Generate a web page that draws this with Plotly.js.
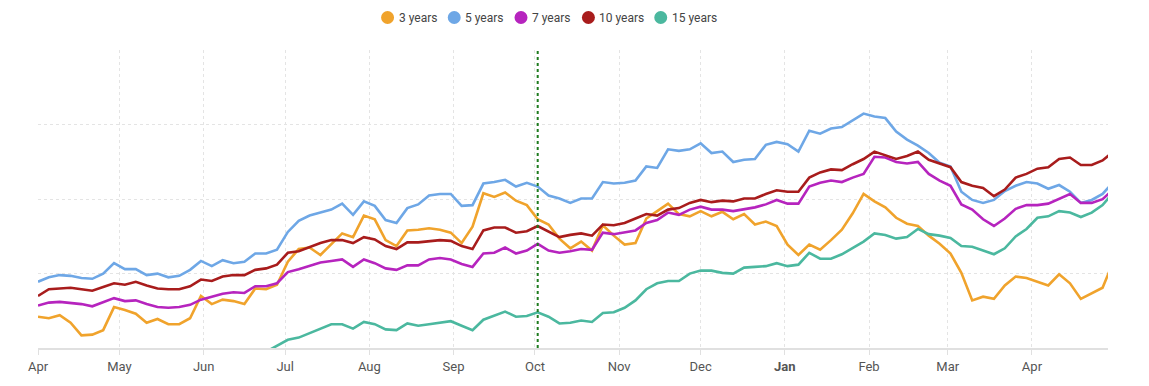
<!DOCTYPE html>
<html>
<head>
<meta charset="utf-8">
<script src="https://cdn.plot.ly/plotly-3.0.1.min.js"></script>
<style>
  html, body { margin: 0; padding: 0; background: #fff; }
  #chart { width: 1149px; height: 386px; }
</style>
</head>
<body>
<div id="chart"></div>
<script>
// Sampling: one observation every 4 days from 1 Apr 2023
const startDate = '2023-04-01';
const stepDays = 4;

const seriesNames = ['3 years', '5 years', '7 years', '10 years', '15 years'];
const seriesColors = ['#F0A32C', '#6EA7E6', '#B624BE', '#A81C1C', '#4BB89F'];

const years3 = [0.42,0.40,0.44,0.34,0.17,0.18,0.24,0.55,0.51,0.46,0.34,0.39,0.32,0.32,0.40,0.70,0.59,0.65,0.63,0.59,
  0.80,0.79,0.85,1.16,1.33,1.35,1.25,1.39,1.54,1.49,1.78,1.73,1.45,1.37,1.58,1.59,1.61,1.59,1.55,1.41,
  1.63,2.08,2.03,2.09,1.98,1.92,1.73,1.66,1.47,1.34,1.43,1.31,1.65,1.51,1.39,1.41,1.74,1.84,1.94,1.80,
  1.77,1.84,1.77,1.83,1.73,1.80,1.66,1.70,1.64,1.39,1.25,1.39,1.32,1.45,1.59,1.81,2.07,1.97,1.89,1.75,
  1.67,1.64,1.51,1.40,1.27,1.01,0.64,0.69,0.66,0.84,0.96,0.94,0.89,0.84,0.99,0.87,0.66,0.73,0.81,1.16];

const years5 = [0.89,0.95,0.98,0.97,0.94,0.93,1.00,1.14,1.06,1.06,0.98,1.00,0.95,0.97,1.05,1.17,1.10,1.18,1.14,1.16,
  1.27,1.27,1.32,1.56,1.71,1.78,1.82,1.86,1.94,1.79,1.97,1.91,1.72,1.68,1.88,1.93,2.05,2.07,2.07,1.91,
  1.92,2.21,2.23,2.26,2.17,2.22,2.17,2.05,2.01,1.95,2.01,2.01,2.23,2.21,2.22,2.25,2.44,2.42,2.67,2.65,
  2.67,2.75,2.62,2.64,2.50,2.53,2.54,2.73,2.77,2.74,2.64,2.92,2.88,2.95,2.97,3.06,3.15,3.11,3.09,2.91,
  2.80,2.72,2.62,2.49,2.44,2.10,1.99,1.95,1.99,2.11,2.18,2.23,2.21,2.14,2.19,2.10,1.95,1.99,2.07,2.23];

const years7 = [0.57,0.61,0.62,0.61,0.59,0.56,0.61,0.67,0.63,0.64,0.59,0.55,0.54,0.55,0.58,0.65,0.69,0.73,0.75,0.74,
  0.83,0.83,0.87,1.02,1.06,1.11,1.15,1.17,1.19,1.09,1.19,1.14,1.07,1.05,1.11,1.11,1.19,1.21,1.19,1.13,
  1.09,1.27,1.28,1.35,1.27,1.31,1.40,1.31,1.28,1.30,1.33,1.32,1.55,1.53,1.56,1.58,1.68,1.72,1.82,1.79,
  1.86,1.90,1.86,1.86,1.84,1.86,1.89,1.93,1.99,1.94,1.94,2.17,2.22,2.25,2.23,2.29,2.34,2.57,2.56,2.50,
  2.48,2.50,2.34,2.25,2.18,1.93,1.86,1.73,1.64,1.74,1.87,1.92,1.92,1.94,2.01,2.07,1.95,1.95,2.00,2.13];

const years10 = [0.70,0.79,0.80,0.81,0.79,0.77,0.82,0.87,0.85,0.89,0.84,0.80,0.79,0.79,0.83,0.92,0.90,0.96,0.98,0.98,
  1.05,1.07,1.12,1.28,1.30,1.36,1.41,1.45,1.45,1.41,1.49,1.46,1.37,1.33,1.42,1.42,1.44,1.45,1.44,1.37,
  1.33,1.58,1.62,1.62,1.55,1.57,1.64,1.56,1.49,1.52,1.54,1.51,1.66,1.65,1.68,1.74,1.80,1.78,1.86,1.88,
  1.95,1.99,1.96,1.98,1.97,2.01,2.01,2.07,2.12,2.10,2.10,2.29,2.36,2.40,2.39,2.47,2.54,2.64,2.59,2.54,
  2.58,2.64,2.53,2.48,2.43,2.23,2.18,2.15,2.04,2.13,2.29,2.34,2.41,2.43,2.54,2.56,2.46,2.46,2.52,2.64];

const years15 = [null,null,null,null,null,null,null,null,null,null,null,null,null,null,null,null,null,null,null,null,
  null,-0.05,0.03,0.11,0.14,0.20,0.25,0.32,0.32,0.26,0.35,0.32,0.25,0.24,0.33,0.30,0.32,0.34,0.36,0.30,
  0.24,0.38,0.44,0.49,0.42,0.43,0.48,0.42,0.33,0.34,0.37,0.35,0.47,0.48,0.54,0.64,0.79,0.87,0.90,0.90,
  1.00,1.04,1.04,1.01,1.00,1.08,1.09,1.10,1.14,1.10,1.12,1.28,1.20,1.20,1.26,1.34,1.43,1.54,1.52,1.47,
  1.49,1.60,1.53,1.51,1.48,1.37,1.36,1.31,1.26,1.34,1.50,1.60,1.75,1.77,1.84,1.82,1.76,1.82,1.92,2.09];

const tickDates = ['2023-04-01','2023-05-01','2023-06-01','2023-07-01','2023-08-01','2023-09-01','2023-10-01',
  '2023-11-01','2023-12-01','2024-01-01','2024-02-01','2024-03-01','2024-04-01'];
const tickLabels = ['Apr','May','Jun','Jul','Aug','Sep','Oct','Nov','Dec','<b>Jan</b>','Feb','Mar','Apr'];
const markerDate = '2023-10-02';
const xRange = ['2023-04-01', '2024-04-29'];

// legend layout (paper coordinates)
const legendX = [0.3267, 0.3890, 0.4514, 0.5144, 0.5820];
const legendY = 1.109;

function buildDates(start, step, n) {
  const out = [];
  const d0 = new Date(start + 'T00:00:00Z');
  for (let i = 0; i < n; i++) {
    const d = new Date(d0.getTime() + i * step * 86400000);
    out.push(d.toISOString().slice(0, 10));
  }
  return out;
}
const dates = buildDates(startDate, stepDays, years3.length);

const allSeries = [years3, years5, years7, years10, years15];
const traces = allSeries.map((vals, k) => ({
  x: dates, y: vals, type: 'scatter', mode: 'lines',
  name: seriesNames[k], showlegend: false,
  line: { color: seriesColors[k], width: 2.6, shape: 'linear' },
  connectgaps: false, hoverinfo: 'skip'
}));

const shapes = [{
  type: 'line', xref: 'x', yref: 'paper',
  x0: markerDate, x1: markerDate, y0: 0, y1: 1,
  line: { color: '#1E7B1E', width: 2, dash: 'dot' }
}];
const annotations = [];
seriesNames.forEach((nm, k) => {
  shapes.push({
    type: 'circle', xref: 'paper', yref: 'paper',
    xsizemode: 'pixel', ysizemode: 'pixel',
    xanchor: legendX[k], yanchor: legendY,
    x0: -6.5, x1: 6.5, y0: -6.5, y1: 6.5,
    fillcolor: seriesColors[k], line: { width: 0 }
  });
  annotations.push({
    xref: 'paper', yref: 'paper', x: legendX[k], y: legendY,
    xshift: 9, xanchor: 'left', yanchor: 'middle', showarrow: false,
    text: nm, font: { size: 12, color: '#444' }
  });
});

const layout = {
  width: 1149, height: 386,
  margin: { l: 38, r: 41, t: 50, b: 38, pad: 0 },
  paper_bgcolor: '#ffffff', plot_bgcolor: '#ffffff',
  font: { family: 'Roboto, "Open Sans", sans-serif', size: 13, color: '#555' },
  showlegend: false,
  xaxis: {
    type: 'date', range: xRange,
    tickvals: tickDates, ticktext: tickLabels,
    showgrid: true, gridcolor: '#e4e4e4', griddash: 'dot', gridwidth: 1,
    showline: true, linecolor: '#e0e0e0', linewidth: 2,
    ticks: 'outside', ticklen: 5, tickcolor: '#e0e0e0', tickwidth: 1,
    tickfont: { size: 13, color: '#555' },
    zeroline: false, fixedrange: true
  },
  yaxis: {
    range: [0, 4.005], dtick: 1, tick0: 0,
    showticklabels: false, ticks: '',
    showgrid: true, gridcolor: '#e4e4e4', griddash: 'dot', gridwidth: 1,
    zeroline: false, showline: false, fixedrange: true
  },
  shapes: shapes,
  annotations: annotations
};

Plotly.newPlot('chart', traces, layout, { staticPlot: true, displayModeBar: false });
</script>
</body>
</html>
